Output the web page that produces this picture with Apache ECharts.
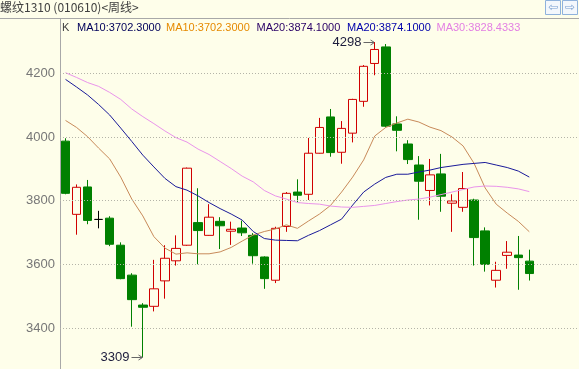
<!DOCTYPE html>
<html><head><meta charset="utf-8">
<script src="https://cdn.jsdelivr.net/npm/echarts@6/dist/echarts.min.js"></script>
<style>html,body{margin:0;padding:0;background:#fefeea;}#c{width:579px;height:369px;}</style>
</head><body><div id="c"></div>
<script>
// ---- data (weekly bars of 螺纹1310) ----
const weeks = ['W01','W02','W03','W04','W05','W06','W07','W08','W09','W10','W11','W12','W13','W14','W15','W16','W17','W18','W19','W20','W21','W22','W23','W24','W25','W26','W27','W28','W29','W30','W31','W32','W33','W34','W35','W36','W37','W38','W39','W40','W41','W42','W43'];
const emptyWeeks = ['W44','W45','W46','W47'];
const opens  = [3987,3757,3843,3741,3745,3660,3566,3472,3468,3548,3611,3660,3731,3691,3735,3704,3714,3691,3623,3550,3719,3827,3820,3949,4063,3952,4012,4112,4231,4283,4041,3978,3912,3832,3884,3792,3779,3802,3705,3550,3628,3629,3610];
const closes = [3823,3842,3738,3741,3663,3555,3489,3465,3523,3619,3650,3902,3706,3748,3721,3710,3699,3627,3555,3713,3823,3817,3949,4030,3951,4027,4118,4222,4275,4034,4021,3929,3861,3881,3814,3799,3838,3684,3600,3581,3638,3621,3571];
const lows   = [3820,3693,3726,3713,3657,3553,3404,3309,3452,3492,3596,3658,3600,3690,3648,3661,3689,3602,3523,3541,3702,3795,3802,3948,3938,3916,3983,4095,4194,4030,3955,3915,3740,3785,3765,3702,3765,3596,3577,3527,3586,3520,3549];
const highs  = [3996,3851,3865,3768,3751,3669,3572,3478,3614,3660,3691,3904,3839,3789,3748,3734,3737,3698,3625,3718,3827,3867,3997,4060,4088,4050,4120,4226,4298,4292,4065,3990,3940,3931,3947,3820,3890,3806,3716,3608,3673,3689,3646];
const ma10 = [4052,4030,4001,3965,3931,3874,3805,3752,3687,3651,3632,3636,3633,3633,3639,3653,3673,3692,3703,3711,3724,3713,3736,3758,3785,3827,3874,3928,4003,4030,4044,4056,4047,4031,4020,4000,3972,3917,3840,3789,3761,3735,3702.3];
const ma20 = [4181,4157,4132,4102,4069,4028,3986,3943,3906,3870,3844,3833,3815,3794,3775,3758,3739,3703,3681,3676,3675,3674,3691,3706,3724,3742,3786,3827,3852,3873,3883,3883,3890,3896,3904,3909,3914,3917,3920,3912,3904,3893,3874.1];
const ma30 = [4202,4187,4171,4159,4140,4118,4088,4064,4042,4019,3998,3984,3962,3945,3923,3901,3877,3859,3832,3815,3805,3794,3791,3789,3783,3780,3779,3782,3785,3791,3797,3802,3805,3811,3819,3827,3835,3843,3846,3845,3842,3837,3828.4333];
const yTicks = [3400,3600,3800,4000,4200];
const headerItems = [
  {text:'K', color:'#404040'},
  {text:'MA10:3702.3000', color:'#00005a'},
  {text:'MA10:3702.3000', color:'#e68a00'},
  {text:'MA20:3874.1000', color:'#2a0066'},
  {text:'MA20:3874.1000', color:'#0000aa'},
  {text:'MA30:3828.4333', color:'#e37fe3'}
];
const titleText = '螺纹1310 (010610)<周线>';

// ---- chart ----
const BG = '#fefeea';
const chart = echarts.init(document.getElementById('c'), null, {renderer:'canvas'});
const candleData = weeks.map((w,i) => {
  const item = {value:[opens[i], closes[i], lows[i], highs[i]]};
  if (opens[i] === closes[i]) item.itemStyle = {color:'#000', color0:'#000', borderColor:'#000', borderColor0:'#000'};
  return item;
});
const headerX = [62, 77, 166, 256.5, 347, 436.5];
const graphics = [
  {type:'text', left:0, top:1, style:{text:titleText, font:'12px "Noto Sans CJK SC"', fill:'#404040'}},
  {type:'line', shape:{x1:0,y1:18.5,x2:579,y2:18.5}, style:{stroke:'#a8a8a8', lineWidth:1}},
  {type:'line', shape:{x1:60.5,y1:18.5,x2:60.5,y2:369}, style:{stroke:'#a8a8a8', lineWidth:1}},
  {type:'rect', shape:{x:545.5,y:0.5,width:15,height:14}, style:{fill:'#f3f7fc', stroke:'#8fb2dc', lineWidth:1}},
  {type:'rect', shape:{x:562.5,y:0.5,width:15,height:14}, style:{fill:'#f3f7fc', stroke:'#8fb2dc', lineWidth:1}},
  {type:'text', x:553, y:7.5, style:{text:'⇦', font:'12px "DejaVu Sans"', fill:'#7aa0d0', align:'center', verticalAlign:'middle'}},
  {type:'text', x:570, y:7.5, style:{text:'⇨', font:'12px "DejaVu Sans"', fill:'#7aa0d0', align:'center', verticalAlign:'middle'}}
];
headerItems.forEach((h,i) => graphics.push({type:'text', x:headerX[i], y:28.4, style:{text:h.text, font:'11px "Liberation Sans"', fill:h.color, verticalAlign:'middle'}}));

chart.setOption({
  backgroundColor: BG,
  animation: false,
  grid: {left:60, right:0, top:41.5, bottom:9.2},
  xAxis: {type:'category', data: weeks.concat(emptyWeeks), boundaryGap:true, show:false},
  yAxis: {type:'value', min:3300, max:4300, interval:100, position:'left',
    axisLine:{show:false}, axisTick:{show:false}, splitLine:{show:false},
    axisLabel:{margin:5, color:'#777777', fontSize:13, fontFamily:'Liberation Sans',
      formatter: v => yTicks.includes(v) ? String(v) : ''}},
  graphic: graphics,
  series: [
    {type:'candlestick', data:candleData, barWidth:9,
      itemStyle:{color:BG, color0:'#008000', borderColor:'#d00000', borderColor0:'#008000', borderWidth:1},
      markLine:{silent:true, symbol:['none','none'], label:{show:false},
        lineStyle:{color:'#b4b4a8', type:[1,2], width:1},
        data: yTicks.map(v => ({yAxis:v}))}},
    {type:'line', data:ma10, symbol:'none', lineStyle:{color:'#c88a5a', width:1}, z:3},
    {type:'line', data:ma20, symbol:'none', lineStyle:{color:'#1a1a99', width:1}, z:3},
    {type:'line', data:ma30, symbol:'none', lineStyle:{color:'#ea94ea', width:1}, z:3}
  ]
});

// annotations for the highest high and lowest low
const hiIdx = highs.indexOf(Math.max(...highs));
const loIdx = lows.indexOf(Math.min(...lows));
function note(idx, val) {
  const p = chart.convertToPixel({xAxisIndex:0, yAxisIndex:0}, [idx, val]);
  const x = Math.round(p[0]) + 0.5, y = Math.round(p[1]) + 0.5;
  return [
    {type:'text', x:x-14, y:y, style:{text:String(val), font:'13px "Liberation Sans"', fill:'#1c1c3c', align:'right', verticalAlign:'middle'}},
    {type:'line', shape:{x1:x-12, y1:y, x2:x-1, y2:y}, style:{stroke:'#666', lineWidth:1}},
    {type:'polyline', shape:{points:[[x-5,y-2.5],[x-1,y],[x-5,y+2.5]]}, style:{stroke:'#666', lineWidth:1, fill:null}}
  ];
}
chart.setOption({graphic: graphics.concat(note(hiIdx, highs[hiIdx]), note(loIdx, lows[loIdx]))});
</script></body></html>
